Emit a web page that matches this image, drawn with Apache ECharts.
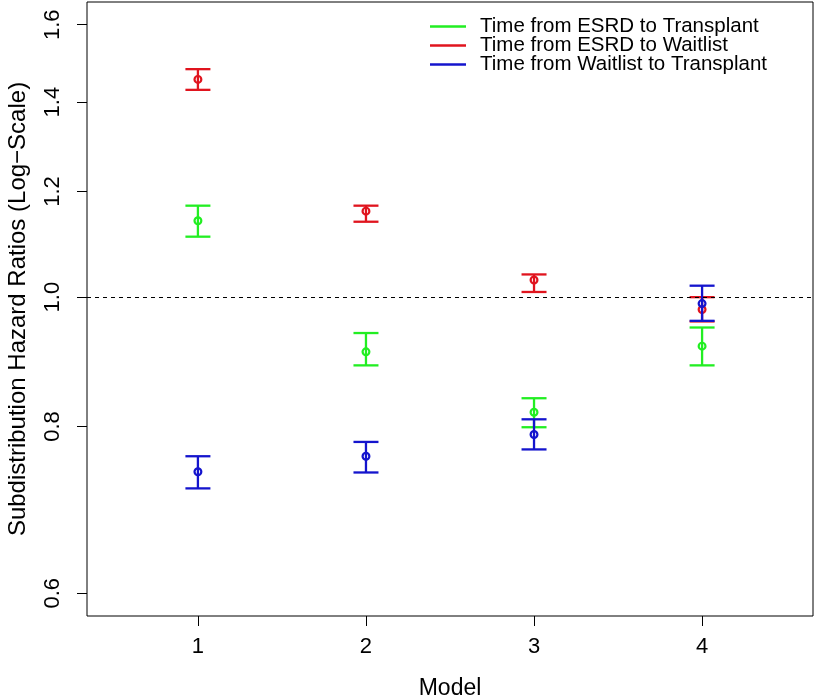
<!DOCTYPE html>
<html>
<head>
<meta charset="utf-8">
<script src="https://cdn.jsdelivr.net/npm/echarts@6.0.0/dist/echarts.min.js"></script>
<style>
html,body{margin:0;padding:0;background:#fff;}
#chart{width:816px;height:699px;}
</style>
</head>
<body>
<div id="chart"></div>
<script>
// ---- data ----
const models = [1, 2, 3, 4];
const xTicks = [1, 2, 3, 4];
const yTicks = [0.6, 0.8, 1.0, 1.2, 1.4, 1.6];

const seriesNames = [
  'Time from ESRD to Transplant',
  'Time from ESRD to Waitlist',
  'Time from Waitlist to Transplant'
];
const seriesColors = ['#22EE22', '#E0141E', '#1414CD'];

const esrdTxEst   = [1.141, 0.910, 0.820, 0.919];
const esrdTxLow   = [1.110, 0.889, 0.799, 0.889];
const esrdTxHigh  = [1.171, 0.940, 0.840, 0.949];

const esrdWlEst   = [1.456, 1.160, 1.030, 0.979];
const esrdWlLow   = [1.430, 1.139, 1.009, 0.959];
const esrdWlHigh  = [1.482, 1.171, 1.040, 1.000];

const wlTxEst     = [0.740, 0.760, 0.789, 0.989];
const wlTxLow     = [0.719, 0.739, 0.769, 0.960];
const wlTxHigh    = [0.760, 0.779, 0.810, 1.020];

const refValue = 1.0;

// ---- build ----
const groups = [
  [esrdTxEst, esrdTxLow, esrdTxHigh],
  [esrdWlEst, esrdWlLow, esrdWlHigh],
  [wlTxEst, wlTxLow, wlTxHigh]
];

const FONT = "'Liberation Sans', Arial, Helvetica, sans-serif";

function renderItem(params, api) {
  const x = api.value(0);
  const pE = api.coord([x, api.value(1)]);
  const pL = api.coord([x, api.value(2)]);
  const pH = api.coord([x, api.value(3)]);
  const color = api.visual('color');
  const half = 12.5;
  const st = {stroke: color, lineWidth: 2.3, fill: null};
  return {
    type: 'group',
    children: [
      {type: 'line', shape: {x1: pL[0], y1: pL[1], x2: pH[0], y2: pH[1]}, style: st},
      {type: 'line', shape: {x1: pL[0] - half, y1: pL[1], x2: pL[0] + half, y2: pL[1]}, style: st},
      {type: 'line', shape: {x1: pH[0] - half, y1: pH[1], x2: pH[0] + half, y2: pH[1]}, style: st},
      {type: 'circle', shape: {cx: pE[0], cy: pE[1], r: 3.4}, style: {stroke: color, lineWidth: 2.2, fill: 'none'}}
    ]
  };
}

const series = groups.map((g, i) => {
  const s = {
    name: seriesNames[i],
    type: 'custom',
    renderItem: renderItem,
    itemStyle: {color: seriesColors[i]},
    encode: {x: 0, y: [1, 2, 3]},
    data: models.map((m, k) => [m, g[0][k], g[1][k], g[2][k]]),
    silent: true,
    animation: false
  };
  if (i === 0) {
    s.markLine = {
      silent: true,
      symbol: ['none', 'none'],
      label: {show: false},
      lineStyle: {color: '#000', width: 1, type: [4, 4]},
      data: [{yAxis: refValue}],
      animation: false
    };
  }
  return s;
});

const yMin = Math.exp(Math.log(0.6) - 0.04 * (Math.log(1.6) - Math.log(0.6)));
const yMax = Math.exp(Math.log(1.6) + 0.04 * (Math.log(1.6) - Math.log(0.6)));

const chart = echarts.init(document.getElementById('chart'), null, {renderer: 'canvas'});
chart.setOption({
  backgroundColor: '#fff',
  animation: false,
  textStyle: {fontFamily: FONT},
  grid: {
    left: 87, right: 3, top: 2, bottom: 83,
    containLabel: false,
    outerBoundsMode: 'none',
    show: true, borderColor: '#000', borderWidth: 1, backgroundColor: 'transparent'
  },
  legend: {
    orient: 'vertical',
    left: 430, top: 16,
    padding: 0,
    itemGap: -2,
    itemWidth: 36, itemHeight: 2.5,
    selectedMode: false,
    textStyle: {fontFamily: FONT, fontSize: 20.5, color: '#000', lineHeight: 19, padding: [0, 0, 0, 9]},
    data: seriesNames.map((n, i) => ({name: n, icon: 'rect', itemStyle: {color: seriesColors[i]}}))
  },
  xAxis: {
    type: 'value',
    min: 0.34, max: 4.66,
    name: 'Model',
    nameLocation: 'middle',
    nameGap: 61,
    nameTextStyle: {fontFamily: FONT, fontSize: 23, color: '#000'},
    axisLine: {show: false},
    splitLine: {show: false},
    axisTick: {show: true, length: 10, customValues: xTicks, lineStyle: {color: '#000', width: 1}},
    axisLabel: {show: true, margin: 20, customValues: xTicks, fontFamily: FONT, fontSize: 22, color: '#000',
      formatter: v => String(v)}
  },
  yAxis: {
    type: 'log',
    logBase: 10,
    min: yMin, max: yMax,
    name: 'Subdistribution Hazard Ratios (Log\u2212Scale)',
    nameLocation: 'middle',
    nameGap: 57,
    nameRotate: 90,
    nameTextStyle: {fontFamily: FONT, fontSize: 24, color: '#000'},
    axisLine: {show: false},
    splitLine: {show: false},
    minorTick: {show: false},
    axisTick: {show: true, length: 10, customValues: yTicks, lineStyle: {color: '#000', width: 1}},
    axisLabel: {show: true, rotate: 90, margin: 23, customValues: yTicks, fontFamily: FONT, fontSize: 22, color: '#000',
      formatter: v => Number(v).toFixed(1)}
  },
  series: series
});
</script>
</body>
</html>
